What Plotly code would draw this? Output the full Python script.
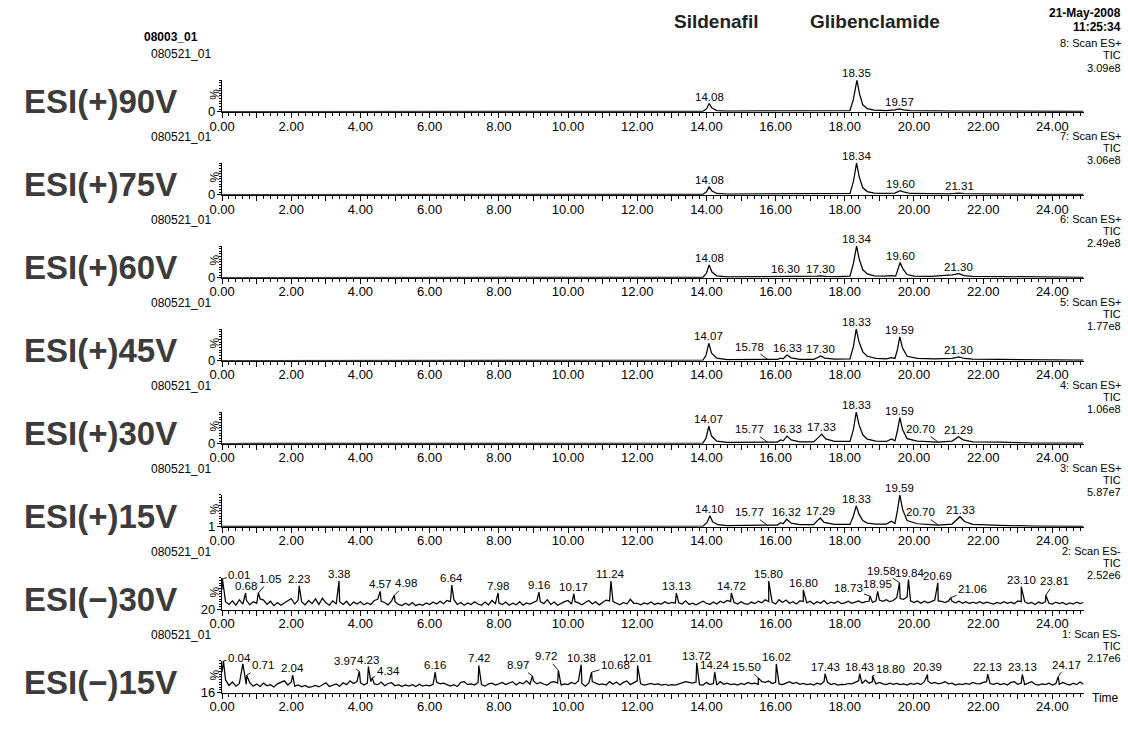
import numpy as np
import plotly.graph_objects as go

# ---------------- data ----------------
panel_names = ["ESI(+)90V", "ESI(+)75V", "ESI(+)60V", "ESI(+)45V",
               "ESI(+)30V", "ESI(+)15V", "ESI(\u2212)30V", "ESI(\u2212)15V"]
scan_titles = ["8: Scan ES+", "7: Scan ES+", "6: Scan ES+", "5: Scan ES+",
               "4: Scan ES+", "3: Scan ES+", "2: Scan ES-", "1: Scan ES-"]
tic_values = ["3.09e8", "3.06e8", "2.49e8", "1.77e8", "1.06e8", "5.87e7", "2.52e6", "2.17e6"]
y_floor = [0, 0, 0, 0, 0, 1, 20, 16]
x_tick_values = list(range(0, 25))
time_max = 24.9

# ESI(+) traces: retention time (min) and relative intensity (%)
esi90_t = [0, 13.0, 13.9, 14.0, 14.08, 14.16, 14.3, 14.6, 16.0, 17.0, 17.4, 17.8, 18.15, 18.25,
           18.35, 18.43, 18.52, 18.65, 18.85, 19.2, 19.35, 19.45, 19.57, 19.7, 19.9, 20.3, 21.3,
           22.5, 23.5, 24.9]
esi90_y = [0.5, 0.8, 1.5, 9, 26, 12, 4, 2, 2, 2.5, 3.5, 3, 4, 40,
           100, 55, 22, 10, 5, 4, 5, 6, 9, 6, 4, 3, 2.5,
           2, 1.5, 1]
esi90_labels = [14.08, 18.35, 19.57]

esi75_t = [0, 13.0, 13.9, 14.0, 14.08, 14.16, 14.3, 14.6, 16.0, 17.0, 17.3, 17.6, 18.15, 18.25,
           18.34, 18.42, 18.52, 18.65, 18.85, 19.2, 19.35, 19.45, 19.6, 19.7, 19.9, 20.3, 21.0,
           21.2, 21.31, 21.45, 21.8, 22.5, 23.5, 24.9]
esi75_y = [0.5, 0.8, 1.5, 9, 25, 12, 4, 2, 2, 2.5, 4, 2.5, 4, 42,
           100, 55, 22, 10, 5, 4, 6, 5, 13, 9, 4, 3, 2.5,
           4, 5, 3.5, 2.5, 2, 1.5, 1]
esi75_labels = [14.08, 18.34, 19.60, 21.31]

esi60_t = [0, 13.0, 13.9, 14.0, 14.08, 14.16, 14.3, 14.6, 15.5, 16.1, 16.3, 16.5, 17.0, 17.2,
           17.3, 17.45, 17.8, 18.15, 18.25, 18.34, 18.42, 18.52, 18.65, 18.85, 19.15, 19.35,
           19.47, 19.52, 19.6, 19.68, 19.8, 20.0, 20.5, 21.1, 21.3, 21.45, 21.7, 22.5, 23.5, 24.9]
esi60_y = [0.5, 0.8, 1.5, 14, 40, 18, 6, 3, 3, 4.5, 5, 4, 3, 5,
           6, 4, 3.5, 5, 45, 100, 58, 25, 12, 6, 5, 7,
           5, 20, 48, 28, 10, 5, 4, 9, 13, 7, 4.5, 3.5, 2, 1.5]
esi60_labels = [14.08, 16.30, 17.30, 18.34, 19.60, 21.30]

esi45_t = [0, 13.0, 13.9, 13.99, 14.07, 14.15, 14.3, 14.6, 15.3, 15.78, 16.05, 16.15, 16.22,
           16.33, 16.45, 16.7, 17.1, 17.22, 17.3, 17.42, 17.7, 18.15, 18.25, 18.33, 18.41, 18.52,
           18.65, 18.9, 19.2, 19.35, 19.45, 19.52, 19.59, 19.67, 19.8, 20.1, 20.6, 21.1, 21.3,
           21.45, 21.7, 22.5, 23.5, 24.9]
esi45_y = [0.5, 0.8, 1.5, 18, 55, 24, 8, 3.5, 3, 3.5, 4, 8, 6,
           18, 9, 4, 4, 10, 15, 8, 5, 6, 45, 100, 60, 28,
           14, 7, 6, 10, 7, 35, 75, 40, 14, 7, 5.5, 7, 12,
           7, 5, 4, 2, 1.5]
esi45_labels = [14.07, 15.78, 16.33, 17.30, 18.33, 19.59, 21.30]

esi30_t = [0, 13.0, 13.9, 13.99, 14.07, 14.15, 14.3, 14.6, 15.3, 15.77, 16.05, 16.15, 16.22,
           16.33, 16.45, 16.7, 17.1, 17.24, 17.33, 17.45, 17.7, 18.15, 18.25, 18.33, 18.41,
           18.52, 18.65, 18.9, 19.2, 19.35, 19.45, 19.52, 19.59, 19.67, 19.8, 20.1, 20.5, 20.7,
           21.1, 21.29, 21.42, 21.7, 22.5, 23.5, 24.9]
esi30_y = [0.5, 0.8, 1.5, 18, 55, 24, 8, 4, 4, 4.5, 5, 12, 9,
           24, 12, 6, 5.5, 20, 30, 15, 7, 7, 45, 100, 60,
           28, 14, 8, 7, 15, 9, 40, 82, 45, 16, 8, 6, 5,
           8, 22, 12, 6, 4.5, 2, 1.5]
esi30_labels = [14.07, 15.77, 16.33, 17.33, 18.33, 19.59, 20.70, 21.29]

esi15_t = [0, 13.0, 13.9, 14.02, 14.10, 14.18, 14.33, 14.6, 15.3, 15.77, 16.05, 16.15, 16.22,
           16.32, 16.45, 16.7, 17.1, 17.2, 17.29, 17.4, 17.7, 18.15, 18.25, 18.33, 18.41, 18.52,
           18.65, 18.9, 19.2, 19.35, 19.45, 19.52, 19.59, 19.67, 19.8, 20.1, 20.5, 20.7, 21.1,
           21.33, 21.46, 21.7, 22.5, 23.5, 24.9]
esi15_y = [1.5, 1.7, 2.5, 14, 35, 16, 7, 4, 4.5, 5, 6, 13, 10,
           24, 12, 7, 7, 19, 28, 14, 8, 8, 35, 66, 40, 20,
           12, 9, 9, 18, 11, 50, 100, 55, 20, 10, 7.5, 6, 9,
           32, 17, 8, 5, 2.5, 2]
esi15_labels = [14.10, 15.77, 16.32, 17.29, 18.33, 19.59, 20.70, 21.33]

# ESI(-) traces: background scans every 0.1 min plus the labelled apexes
neg_scan_t = np.round(np.arange(0, 250) * 0.1, 2)

neg30_noise = [
    70, 40, 33, 42, 31, 45, 34, 44, 32, 40,
    36, 47, 44, 33, 41, 30, 38, 31, 37, 43,
    48, 34, 44, 40, 32, 43, 35, 47, 33, 49,
    37, 31, 42, 34, 40, 33, 41, 30, 39, 34,
    40, 32, 37, 33, 43, 46, 41, 38, 32, 42,
    40, 33, 30, 36, 31, 38, 30, 34, 31, 37,
    33, 39, 34, 41, 35, 43, 40, 45, 33, 38,
    31, 37, 33, 40, 34, 31, 39, 32, 43, 35,
    37, 33, 39, 31, 36, 32, 40, 31, 37, 34,
    39, 42, 40, 35, 45, 33, 39, 31, 36, 40,
    43, 34, 40, 37, 32, 38, 43, 34, 40, 32,
    38, 44, 42, 40, 35, 32, 38, 34, 46, 36,
    36, 32, 37, 34, 39, 33, 36, 34, 40, 35,
    38, 36, 37, 34, 42, 33, 36, 32, 37, 41,
    36, 33, 39, 34, 41, 37, 43, 40, 38, 34,
    40, 35, 33, 39, 35, 41, 37, 45, 40, 39,
    34, 45, 38, 44, 36, 40, 34, 42, 41, 37,
    41, 34, 40, 36, 43, 34, 39, 36, 41, 35,
    37, 41, 36, 39, 42, 37, 40, 41, 38, 42,
    44, 41, 45, 40, 43, 50, 48, 46, 52, 42,
    38, 42, 36, 41, 37, 40, 44, 42, 41, 38,
    42, 41, 37, 41, 36, 40, 35, 39, 36, 40,
    35, 39, 36, 34, 38, 35, 40, 36, 39, 35,
    42, 40, 40, 35, 38, 33, 39, 35, 40, 36,
    34, 39, 35, 38, 33, 37, 34, 39, 35, 38]
neg30_peak_t = [0.01, 0.68, 1.05, 2.23, 3.38, 4.57, 4.98, 6.64, 7.98, 9.16, 10.17, 11.24,
                13.13, 14.72, 15.80, 16.80, 18.73, 18.95, 19.58, 19.84, 20.69, 21.06, 23.10, 23.81]
neg30_peak_y = [98, 62, 62, 80, 92, 66, 56, 82, 62, 64, 60, 92,
                62, 62, 92, 70, 54, 66, 88, 96, 88, 50, 78, 56]

neg15_noise = [
    70, 50, 35, 44, 33, 40, 92, 38, 42, 33,
    39, 32, 41, 34, 37, 31, 39, 42, 47, 36,
    44, 33, 36, 31, 35, 30, 32, 35, 31, 37,
    42, 32, 36, 39, 33, 42, 37, 47, 40, 45,
    42, 36, 41, 45, 39, 37, 44, 34, 40, 42,
    34, 37, 32, 36, 33, 37, 32, 38, 33, 36,
    34, 38, 44, 39, 41, 36, 33, 37, 32, 43,
    45, 37, 39, 36, 43, 37, 33, 39, 41, 36,
    39, 43, 37, 40, 45, 36, 43, 39, 47, 38,
    47, 39, 43, 38, 36, 43, 45, 41, 36, 39,
    37, 43, 39, 47, 40, 33, 41, 45, 40, 37,
    39, 36, 45, 38, 44, 36, 43, 47, 37, 41,
    47, 39, 36, 38, 40, 37, 39, 36, 38, 35,
    37, 36, 39, 40, 45, 43, 41, 44, 37, 36,
    43, 37, 40, 36, 45, 38, 41, 37, 39, 36,
    40, 37, 43, 39, 41, 38, 45, 43, 47, 40,
    43, 39, 37, 41, 45, 40, 43, 38, 40, 37,
    39, 36, 41, 38, 45, 43, 37, 40, 36, 38,
    37, 40, 39, 43, 47, 40, 49, 41, 45, 39,
    43, 39, 37, 41, 38, 40, 37, 39, 36, 40,
    38, 41, 37, 45, 47, 40, 43, 39, 41, 45,
    39, 41, 36, 39, 37, 40, 38, 43, 40, 39,
    43, 45, 40, 38, 41, 37, 40, 36, 43, 45,
    38, 41, 37, 40, 45, 38, 36, 39, 37, 41,
    36, 40, 38, 43, 39, 36, 41, 37, 44, 38]
neg15_peak_t = [0.04, 0.71, 2.04, 3.97, 4.23, 4.34, 6.16, 7.42, 8.97, 9.72, 10.38, 10.68,
                12.01, 13.72, 14.24, 15.50, 16.02, 17.43, 18.43, 18.80, 20.39, 22.13, 23.13, 24.17]
neg15_peak_y = [100, 62, 62, 72, 85, 55, 70, 88, 60, 75, 90, 70,
                88, 95, 70, 55, 92, 66, 66, 60, 64, 65, 64, 58]


def merge_scans(scan_t, scan_y, apex_t, apex_y):
    t = np.concatenate([np.asarray(scan_t, float), np.asarray(apex_t, float)])
    y = np.concatenate([np.asarray(scan_y, float), np.asarray(apex_y, float)])
    order = np.argsort(t, kind="stable")
    return t[order], y[order]


neg30_t, neg30_y = merge_scans(neg_scan_t, neg30_noise, neg30_peak_t, neg30_peak_y)
neg15_t, neg15_y = merge_scans(neg_scan_t, neg15_noise, neg15_peak_t, neg15_peak_y)

traces = [
    (esi90_t, esi90_y, esi90_labels),
    (esi75_t, esi75_y, esi75_labels),
    (esi60_t, esi60_y, esi60_labels),
    (esi45_t, esi45_y, esi45_labels),
    (esi30_t, esi30_y, esi30_labels),
    (esi15_t, esi15_y, esi15_labels),
    (neg30_t, neg30_y, neg30_peak_t),
    (neg15_t, neg15_y, neg15_peak_t),
]

# labels drawn with a leader line: (panel, time) -> text offset in px
leaders = {
    (3, 15.78): (-18, -13),
    (4, 15.77): (-18, -13), (4, 20.70): (-18, -13),
    (5, 15.77): (-18, -13), (5, 20.70): (-18, -13),
    (6, 0.01): (17, -4), (6, 1.05): (12, -14), (6, 4.98): (12, -12),
    (6, 18.73): (-22, -8), (6, 19.58): (-18, -12), (6, 21.06): (22, -9), (6, 23.81): (9, -14),
    (7, 0.04): (16, -3), (7, 0.71): (16, -10), (7, 3.97): (-14, -10), (7, 4.34): (16, -7),
    (7, 8.97): (-14, -11), (7, 9.72): (-12, -14), (7, 10.68): (24, -7),
    (7, 15.50): (-12, -11), (7, 18.80): (18, -7), (7, 24.17): (8, -12),
}
# small sideways nudges of labels without leaders
nudges = {(6, 19.84): 1}

# ---------------- layout geometry ----------------
W, H = 1128, 751
AX_LEFT, PX_PER_MIN = 211.5, 35.0
AX_RIGHT = AX_LEFT + PX_PER_MIN * time_max
BASE0, STEP, AX_H = 113, 83.86, 32
TEXT_RIGHT = 1123
FONT = "Liberation Sans, Arial, sans-serif"
# vertical offsets (px above the baseline) of the scan / TIC / intensity lines
HEADER_ROWS_FIRST = (70, 57, 44)
HEADER_ROWS = (59, 47, 35)


def px(x):
    return x / W


def py(y):
    return 1 - y / H


fig = go.Figure()
annotations = []

for i, (t, y, labels) in enumerate(traces):
    base = BASE0 + STEP * i
    sfx = "" if i == 0 else str(i + 1)
    xa, ya = "x" + sfx, "y" + sfx
    lo = y_floor[i]

    fig.add_trace(go.Scatter(x=list(t), y=list(y), mode="lines",
                             line=dict(color="black", width=1.25),
                             xaxis=xa, yaxis=ya, hoverinfo="skip", showlegend=False))

    fig.layout["xaxis" + sfx] = dict(
        domain=[px(AX_LEFT), px(AX_RIGHT)], range=[0, time_max], anchor=ya,
        showline=True, linecolor="black", linewidth=1.3, showgrid=False, zeroline=False,
        tickmode="array", tickvals=x_tick_values,
        ticktext=[f"{v:.2f}" if v % 2 == 0 else "" for v in x_tick_values],
        ticks="outside", ticklen=5, tickwidth=1, tickcolor="black",
        ticklabelstandoff=-3,
        tickfont=dict(family=FONT, size=13, color="black"),
        minor=dict(dtick=0.2, tick0=0, ticks="outside", ticklen=3, tickwidth=1, tickcolor="black"),
        fixedrange=True,
    )
    fig.layout["yaxis" + sfx] = dict(
        domain=[py(base), py(base - AX_H)], range=[lo, 100], anchor=xa,
        showline=True, linecolor="black", linewidth=1.3, showgrid=False, zeroline=False,
        tickmode="array", tickvals=[lo], ticktext=[str(lo)],
        ticks="outside", ticklen=4, tickwidth=1, tickcolor="black",
        ticklabelstandoff=-1,
        tickfont=dict(family=FONT, size=13, color="black"),
        minor=dict(dtick=(100 - lo) / 12, tick0=lo, ticks="outside", ticklen=2,
                   tickwidth=1, tickcolor="black"),
        fixedrange=True,
    )

    # "%" on the intensity axis
    annotations.append(dict(xref="paper", yref="paper", x=px(204), y=py(base - 18),
                            text="%", textangle=-90, showarrow=False,
                            font=dict(family=FONT, size=12, color="black"),
                            xanchor="center", yanchor="middle"))
    # ionisation mode / cone voltage
    annotations.append(dict(xref="paper", yref="paper", x=px(9), y=py(base - 10),
                            text="<b>" + panel_names[i] + "</b>", showarrow=False,
                            font=dict(family=FONT, size=33, color="#3c3c3c"),
                            xanchor="left", yanchor="middle"))
    # file id
    annotations.append(dict(xref="paper", yref="paper", x=px(138), y=py(base - 58),
                            text="080521_01", showarrow=False,
                            font=dict(family=FONT, size=12, color="black"),
                            xanchor="left", yanchor="middle"))
    # scan function info
    rows = HEADER_ROWS_FIRST if i == 0 else HEADER_ROWS
    for txt, dy in zip([scan_titles[i], "TIC", tic_values[i]], rows):
        annotations.append(dict(xref="paper", yref="paper", x=px(TEXT_RIGHT), y=py(base - dy),
                                text=txt, showarrow=False,
                                font=dict(family=FONT, size=11, color="black"),
                                xanchor="right", yanchor="middle"))

    # peak labels
    tt, yy = np.asarray(t, float), np.asarray(y, float)
    for lt in labels:
        yv = float(np.interp(lt, tt, yy))
        txt = f"{lt:.2f}"
        key = (i, round(lt, 2))
        if key in leaders:
            dx, dy = leaders[key]
            annotations.append(dict(xref=xa, yref=ya, x=lt, y=yv, text=txt,
                                    showarrow=True, arrowhead=0, arrowwidth=0.9,
                                    arrowcolor="black", ax=dx, ay=dy, standoff=0,
                                    font=dict(family=FONT, size=11.5, color="black")))
        else:
            annotations.append(dict(xref=xa, yref=ya, x=lt, y=yv, text=txt,
                                    showarrow=False, yanchor="bottom", yshift=-1,
                                    xshift=nudges.get(key, 0), xanchor="center",
                                    font=dict(family=FONT, size=11.5, color="black")))

# header texts
annotations += [
    dict(xref="paper", yref="paper", x=px(160), y=py(37), text="<b>08003_01</b>",
         showarrow=False, font=dict(family=FONT, size=12, color="black"),
         xanchor="center", yanchor="middle"),
    dict(xref="paper", yref="paper", x=px(TEXT_RIGHT), y=py(13), text="<b>21-May-2008</b>",
         showarrow=False, font=dict(family=FONT, size=12, color="black"),
         xanchor="right", yanchor="middle"),
    dict(xref="paper", yref="paper", x=px(TEXT_RIGHT), y=py(27), text="<b>11:25:34</b>",
         showarrow=False, font=dict(family=FONT, size=12, color="black"),
         xanchor="right", yanchor="middle"),
    dict(xref="paper", yref="paper", x=px(711), y=py(22), text="<b>Sildenafil</b>",
         showarrow=False, font=dict(family=FONT, size=19, color="#222"),
         xanchor="center", yanchor="middle"),
    dict(xref="paper", yref="paper", x=px(872), y=py(22), text="<b>Glibenclamide</b>",
         showarrow=False, font=dict(family=FONT, size=19, color="#222"),
         xanchor="center", yanchor="middle"),
    dict(xref="paper", yref="paper", x=px(AX_RIGHT + 7), y=py(BASE0 + STEP * 7 + 6),
         text="Time", showarrow=False, font=dict(family=FONT, size=12, color="black"),
         xanchor="left", yanchor="middle"),
]

fig.update_layout(
    width=W, height=H, margin=dict(l=0, r=0, t=0, b=0),
    paper_bgcolor="white", plot_bgcolor="white",
    showlegend=False, annotations=annotations,
)

fig.write_html("out.html", config={"displayModeBar": False})
